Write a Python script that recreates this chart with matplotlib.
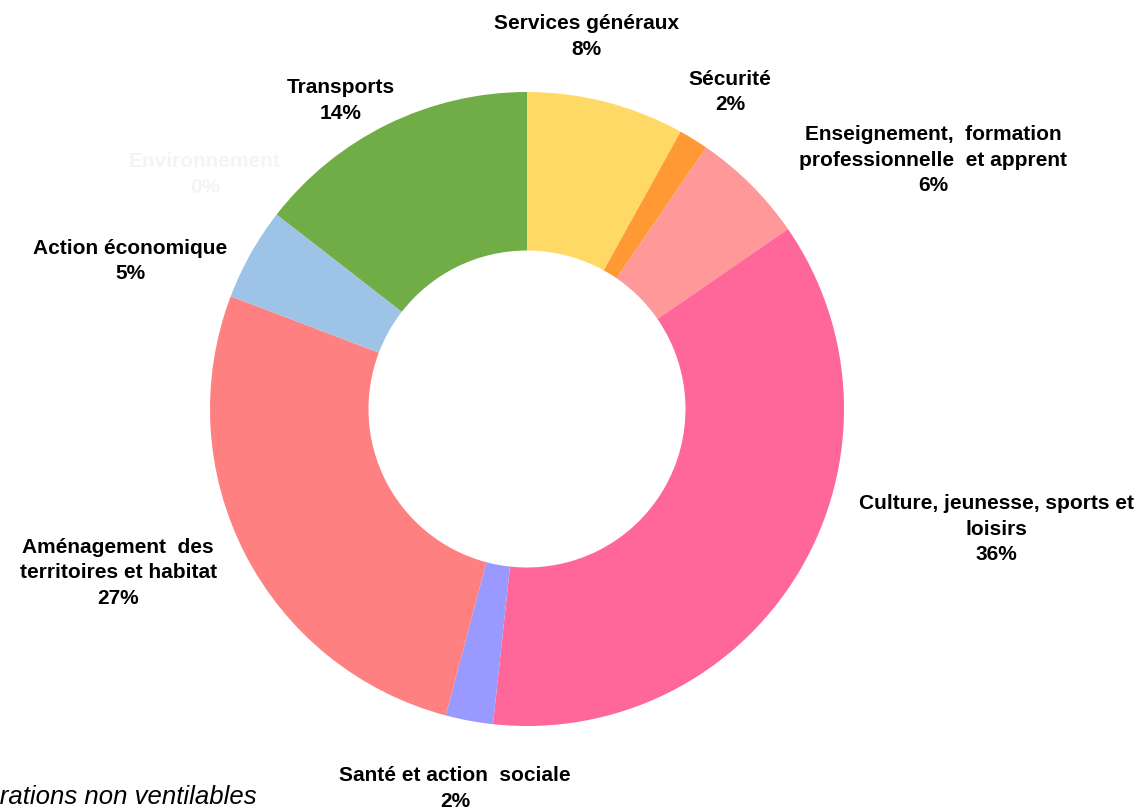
import matplotlib.pyplot as plt

# budget split by function, clockwise from 12 o'clock
categories = ["Services généraux", "Sécurité",
              "Enseignement,  formation\nprofessionnelle  et apprent",
              "Culture, jeunesse, sports et\nloisirs", "Santé et action  sociale",
              "Aménagement  des\nterritoires et habitat", "Action économique",
              "Environnement", "Transports"]
values = [8.0, 1.5, 5.8, 36.1, 2.4, 26.5, 4.7, 0.0, 14.4]
colors = ["#FFD966", "#FF9933", "#FF9999", "#FF6699", "#9999FF",
          "#FF8080", "#9DC3E6", "#FFFFFF", "#70AD47"]

# label anchors (data units, 1 = outer radius)
label_pos = [(0.189, 1.174), (0.640, 1.000), (1.281, 0.785),
             (1.480, -0.379), (-0.227, -1.196), (-1.290, -0.517),
             (-1.252, 0.467), (-1.016, 0.739), (-0.587, 0.973)]
label_colors = ["black"] * 7 + ["#F4F4F4", "black"]

fig = plt.figure(figsize=(11.47, 8.11), dpi=100)
ax = fig.add_axes([0, 0, 1, 1])
R = 317.0

ax.pie(values, colors=colors, startangle=90, counterclock=False, radius=1.0,
       wedgeprops=dict(width=0.5, linewidth=0), center=(0, 0), frame=True)
ax.set_xlim(-527 / R, (1147 - 527) / R)
ax.set_ylim(-(811 - 409) / R, 409 / R)
ax.axis("off")

total = sum(values)
for name, v, (x, y), c in zip(categories, values, label_pos, label_colors):
    ax.text(x, y, f"{name}\n{round(v / total * 100)}%", ha="center", va="center",
            fontsize=15, fontweight="bold", family="Liberation Sans",
            color=c, linespacing=1.45)

fig.text(257 / 1147, 1 - 797 / 811, "Opérations non ventilables", ha="right",
         va="center", fontsize=18.5, style="italic", family="Liberation Sans")

fig.savefig("out.png", dpi=100)
